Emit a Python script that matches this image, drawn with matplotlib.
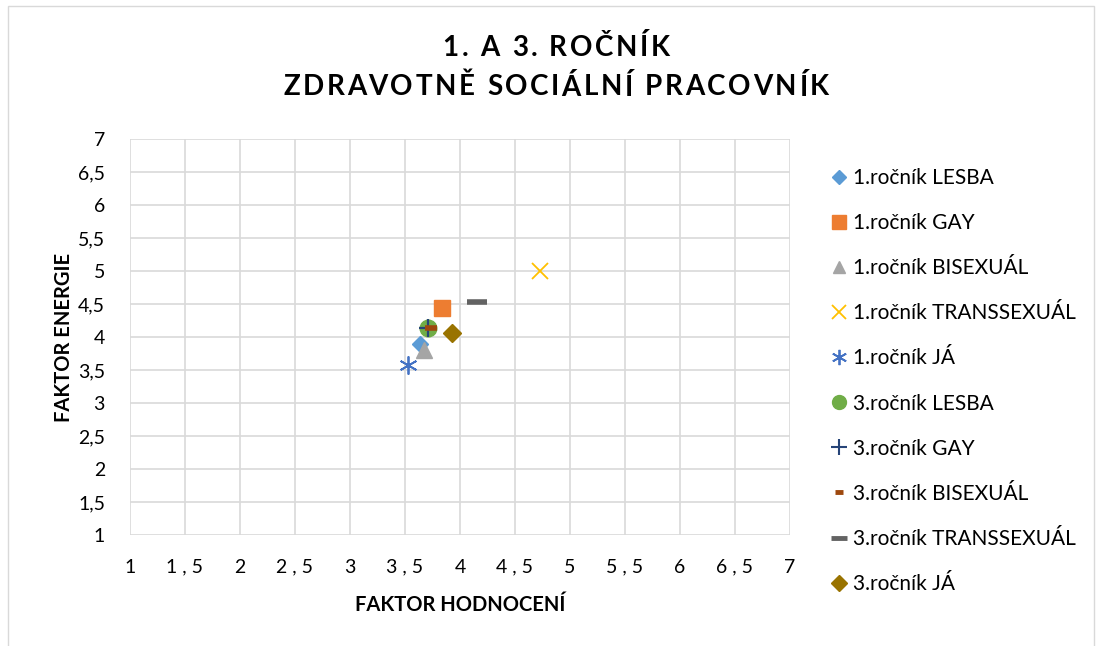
import matplotlib
matplotlib.use("Agg")
import matplotlib.pyplot as plt
from matplotlib.patches import Rectangle

labels = ["1.ročník LESBA", "1.ročník GAY", "1.ročník BISEXUÁL", "1.ročník TRANSSEXUÁL",
          "1.ročník JÁ", "3.ročník LESBA", "3.ročník GAY", "3.ročník BISEXUÁL",
          "3.ročník TRANSSEXUÁL", "3.ročník JÁ"]
x_vals = [3.64, 3.84, 3.67, 4.73, 3.53, 3.71, 3.71, 3.74, 4.15, 3.93]
y_vals = [3.89, 4.44, 3.80, 5.00, 3.58, 4.14, 4.14, 4.13, 4.53, 4.06]
ticks = [1, 1.5, 2, 2.5, 3, 3.5, 4, 4.5, 5, 5.5, 6, 6.5, 7]
x_tick_labels = ["1", "1 , 5", "2", "2 , 5", "3", "3 , 5", "4", "4 , 5", "5", "5 , 5", "6", "6 , 5", "7"]
y_tick_labels = ["1", "1,5", "2", "2,5", "3", "3,5", "4", "4,5", "5", "5,5", "6", "6,5", "7"]
title_lines = ["1. A 3. ROČNÍK", "ZDRAVOTNĚ SOCIÁLNÍ PRACOVNÍK"]

colors = ["#5B9BD5", "#ED7D31", "#A5A5A5", "#FFC000", "#4472C4",
          "#70AD47", "#264478", "#9E480E", "#636363", "#997300"]
markers = ["D", "s", "^", "x", (6, 2, 0), "o", "+", "_", "_", "D"]
sizes = [8, 12, 11, 11, 13, 12, 13, 8, 14, 9]
mews = [1, 1, 1, 1.3, 1.3, 1, 1.6, 4, 4, 1]
leg_sizes = [7, 10, 9, 10, 11, 10, 11, 6, 12, 8]
leg_mews = [1, 1, 1, 1.3, 1.3, 1, 1.5, 3.5, 3.5, 1]

plt.rcParams['font.family'] = ['Lato', 'DejaVu Sans']

W, H = 1097, 646
fig = plt.figure(figsize=(W/100, H/100), dpi=100)
ax = fig.add_axes([130/W, 1-535/H, 660/W, 396/H])

for i in range(len(labels)):
    ax.plot([x_vals[i]], [y_vals[i]], linestyle='none', marker=markers[i],
            markersize=sizes[i], color=colors[i], markeredgecolor=colors[i],
            markeredgewidth=mews[i], label=labels[i], zorder=3+i)

ax.set_xlim(1, 7)
ax.set_ylim(1, 7)
ax.set_xticks(ticks)
ax.set_xticklabels(x_tick_labels)
ax.set_yticks(ticks)
ax.set_yticklabels(y_tick_labels)
ax.grid(True, color="#D9D9D9", linewidth=1.2)
ax.set_axisbelow(True)
for s in ax.spines.values():
    s.set_visible(False)
ax.tick_params(axis='x', length=0, labelsize=14, colors="#000000", pad=17)
ax.tick_params(axis='y', length=0, labelsize=14, colors="#000000", pad=18)
ax.set_xlabel("FAKTOR HODNOCENÍ", fontsize=14.5, fontweight='bold', labelpad=14)
ax.set_ylabel("FAKTOR ENERGIE", fontsize=14.5, fontweight='bold', labelpad=3)

# title with letter spacing
renderer = fig.canvas.get_renderer()
def spaced_text(text, xc_px, yc_px, size, spacing_px):
    widths = []
    for ch in text:
        if ch == " ":
            t = fig.text(0, 0, "a", fontsize=size, fontweight='bold')
            w = t.get_window_extent(renderer).width * 0.5
        else:
            t = fig.text(0, 0, ch, fontsize=size, fontweight='bold')
            w = t.get_window_extent(renderer).width
        t.remove()
        widths.append(w)
    total = sum(widths) + spacing_px * (len(text) - 1)
    x = xc_px - total / 2
    for ch, w in zip(text, widths):
        if ch != " ":
            fig.text(x / W, 1 - yc_px / H, ch, fontsize=size, fontweight='bold',
                     ha='left', va='center')
        x += w + spacing_px

spaced_text(title_lines[0], 556, 48, 20, 2.6)
spaced_text(title_lines[1], 556, 87, 20, 2.6)

leg_handles = []
for i in range(len(labels)):
    leg_handles.append(plt.Line2D([], [], linestyle='none', marker=markers[i], markersize=leg_sizes[i],
                                  color=colors[i], markeredgecolor=colors[i],
                                  markeredgewidth=leg_mews[i]))
fig.legend(leg_handles, labels, loc='upper left', bbox_to_anchor=(830/W, 1-168/H),
           frameon=False, fontsize=15, labelspacing=1.205, handlelength=0.85,
           handletextpad=0.25, borderaxespad=0, borderpad=0)

fig.patches.append(Rectangle((8/W, -0.01), 1086/W, 1.0, transform=fig.transFigure,
                             fill=False, edgecolor="#D9D9D9", linewidth=1))

fig.savefig("out.png", dpi=100)
